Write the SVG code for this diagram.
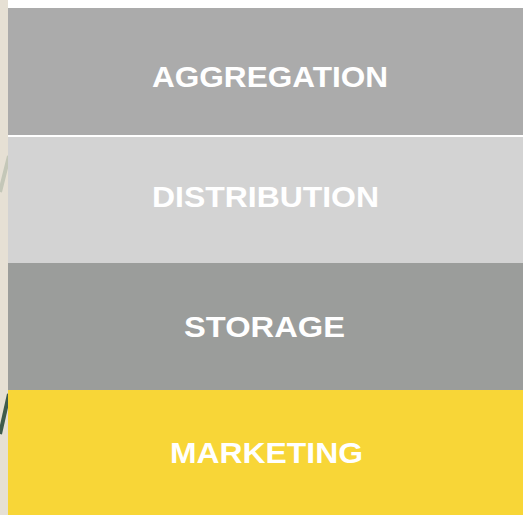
<svg xmlns="http://www.w3.org/2000/svg" width="523" height="515" viewBox="0 0 523 515">
  <style>
    .lbl { font-family: "Liberation Sans", Arial, sans-serif; font-weight: bold; font-size: 30px; fill: #FFFFFF; text-anchor: middle; }
  </style>
  <rect x="0" y="0" width="523" height="515" fill="#FFFFFF"/>
  <rect x="0" y="0" width="8" height="515" fill="#E6E0D4"/>
  <line x1="9" y1="156" x2="0" y2="192" stroke="#C4C7B8" stroke-width="4"/>
  <line x1="9" y1="394" x2="0" y2="434" stroke="#3F5B4B" stroke-width="4"/>
  <g id="aggregation">
    <rect x="8" y="8" width="515" height="127" fill="#ABABAB"/>
    <text class="lbl" x="270" y="87" textLength="236" lengthAdjust="spacingAndGlyphs">AGGREGATION</text>
  </g>
  <g id="distribution">
    <rect x="8" y="137" width="515" height="126" fill="#D3D3D3"/>
    <text class="lbl" x="265.5" y="207" textLength="227" lengthAdjust="spacingAndGlyphs">DISTRIBUTION</text>
  </g>
  <g id="storage">
    <rect x="8" y="263" width="515" height="127" fill="#9B9D9B"/>
    <text class="lbl" x="264.5" y="337" textLength="161" lengthAdjust="spacingAndGlyphs">STORAGE</text>
  </g>
  <g id="marketing">
    <rect x="8" y="390" width="515" height="125" fill="#F8D637"/>
    <text class="lbl" x="266.5" y="463" textLength="193" lengthAdjust="spacingAndGlyphs">MARKETING</text>
  </g>
  <g id="connectors"></g>
</svg>
